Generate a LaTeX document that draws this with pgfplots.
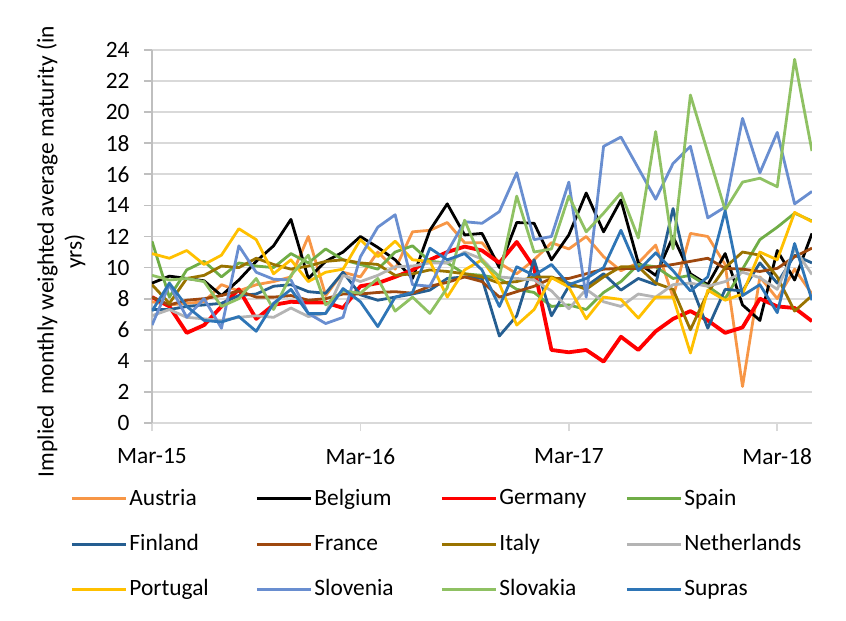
\documentclass[border=0pt]{standalone}
\usepackage{fontspec}
\setmainfont{Carlito}
\usepackage{pgfplots}
\usepackage{pgfplotstable}
\pgfplotsset{compat=1.18}

\definecolor{cAustria}{HTML}{F79646}
\definecolor{cBelgium}{HTML}{000000}
\definecolor{cGermany}{HTML}{FF0000}
\definecolor{cSpain}{HTML}{70AD47}
\definecolor{cFinland}{HTML}{255E91}
\definecolor{cFrance}{HTML}{9E480E}
\definecolor{cItaly}{HTML}{997300}
\definecolor{cNetherlands}{HTML}{B4B4B4}
\definecolor{cPortugal}{HTML}{FFC000}
\definecolor{cSlovenia}{HTML}{698ED0}
\definecolor{cSlovakia}{HTML}{8FC163}
\definecolor{cSupras}{HTML}{2E75B6}
\definecolor{gridgray}{HTML}{D9D9D9}
\definecolor{axgray}{HTML}{BFBFBF}

% monthly values, m = months since Mar-15
\pgfplotstableread{
m  Austria Belgium Germany Spain Finland France Italy Netherlands Portugal Slovenia Slovakia Supras
0  7.8  9.0   8.1   11.7  7.3   8.1   8.9   6.9   10.9  6.3   9.5   7.2
1  7.6  9.45  7.5   8.1   7.3   7.6   7.7   7.3   10.6  8.9   9.2   9.0
2  7.7  9.3   5.8   9.85  7.5   7.9   9.3   6.8   11.1  6.8   9.3   7.5
3  7.8  9.15  6.3   10.4  7.6   8.0   9.5   6.7   10.2  8.0   9.1   6.6
4  8.9  8.2   7.5   9.4   7.7   8.2   10.1  6.6   10.8  6.1   7.5   6.5
5  8.5  9.2   8.6   10.3  8.2   8.5   10.0  6.8   12.5  11.4  8.0   6.85
6  8.9  10.4  6.7   10.1  8.3   8.1   10.6  6.9   11.8  9.7   9.3   5.9
7  9.1  11.4  7.6   10.0  8.8   8.1   10.2  6.8   9.6   9.25  7.3   7.7
8  9.4  13.1  7.8   10.9  8.9   8.2   9.9   7.4   10.5  9.2   9.5   8.6
9  12.0 9.3   7.75  10.3  8.45  7.9   10.1  6.85  9.1   7.05  10.8  7.05
10 8.2  10.4  7.75  11.2  8.35  8.0   10.4  7.05  9.7   6.4   7.6   7.05
11 9.7  11.0  7.4   10.5  9.7   8.3   10.5  9.5   9.9   6.8   8.5   8.65
12 9.4  12.0  8.8   10.2  8.25  8.3   10.3  9.1   11.8  10.7  8.35  7.8
13 11.0 11.3  9.0   9.9   7.9   8.4   10.2  9.5   10.7  12.6  9.3   6.2
14 9.9  10.5  9.4   11.0  8.1   8.45  9.5   10.05 11.7  13.4  7.2   8.1
15 12.3 9.3   9.85  11.4  8.3   8.35  9.6   10.1  10.5  8.9   8.1   8.4
16 12.4 12.4  10.5  10.4  8.55  8.8   9.85  10.3  10.4  8.8   7.05  11.25
17 12.9 14.1  11.0  10.3  9.3   9.05  9.75  10.3  8.1   11.0  8.7   10.5
18 11.6 12.1  11.35 9.6   9.4   9.4   9.6   11.0  9.85  12.95 13.05 10.9
19 11.6 12.2  11.1  9.5   9.3   9.1   9.4   10.55 10.5  12.85 10.4  9.85
20 10.3 10.0  10.3  9.3   5.6   8.1   9.0   9.4   8.95  13.6  9.4   7.5
21 9.6  12.9  11.65 8.6   6.9   8.45  9.1   9.3   6.3   16.1  14.6  10.05
22 10.5 12.85 10.0  8.4   10.5  8.8   9.4   9.2   7.3   11.8  11.0  9.5
23 11.6 10.5  4.7   7.5   6.9   9.3   9.4   8.5   9.35  12.0  11.2  10.2
24 11.2 12.1  4.55  7.6   8.8   9.3   9.0   7.35  8.75  15.5  14.6  8.9
25 12.0 14.8  4.7   7.3   8.8   9.6   8.6   8.6   6.7   8.1   12.3  9.3
26 10.7 12.3  3.95  8.4   9.6   9.9   9.4   7.8   8.1   17.8  13.5  10.0
27 9.8  14.35 5.55  9.1   8.55  9.95  10.05 7.5   7.95  18.4  14.8  12.4
28 10.3 10.3  4.7   10.2  9.3   9.95  10.05 8.3   6.75  16.4  11.9  9.8
29 11.45 9.5  5.9   10.05 8.9   10.05 9.0   8.1   8.1   14.4  18.75 10.95
30 8.1  12.0  6.7   9.3   13.8  10.2  8.6   8.9   8.1   16.7  11.2  9.8
31 12.2 9.6   7.2   9.5   9.0   10.4  6.0   9.0   4.5   17.8  21.1  8.5
32 12.0 8.9   6.6   8.8   6.1   10.6  8.4   8.8   8.55  13.2  17.4  9.4
33 10.2 10.9  5.8   8.0   8.6   9.95  10.0  9.1   7.9   13.9  13.7  13.65
34 2.35 7.6   6.15  9.9   8.5   9.9   11.0  9.7   8.3   19.6  15.5  8.2
35 9.4  6.6   8.0   11.8  10.3  9.75  10.8  9.35  11.0  16.1  15.75 8.9
36 8.0  11.1  7.5   12.6  9.0   9.95  9.4   8.6   10.5  18.7  15.2  7.1
37 9.9  9.2   7.4   13.5  10.8  10.7  7.2   11.2  13.55 14.1  23.4  11.55
38 8.3  12.2  6.55  13.0  10.3  11.25 8.2   9.55  12.95 14.9  17.5  7.9
}\wam

\newcommand{\cfont}{\fontsize{11.7}{14}\selectfont}

\begin{document}
\begin{tikzpicture}
\path[use as bounding box] (-76pt,-99pt) rectangle (347pt,211.5pt);
\begin{axis}[
    scale only axis,
    width=330pt, height=186.5pt,
    xmin=0, xmax=38,
    ymin=0, ymax=24,
    xtick={0,12,24,36},
    xticklabels={Mar-15,Mar-16,Mar-17,Mar-18},
    ytick={0,2,...,24},
    axis x line*=bottom,
    axis y line*=left,
    x axis line style={draw=gridgray, line width=0.9pt, -},
    y axis line style={draw=axgray, line width=0.9pt, -},
    tick align=outside,
    major tick length=4pt,
    xtick style={draw=gridgray, line width=0.9pt},
    ytick style={draw=axgray, line width=0.9pt},
    ymajorgrids,
    grid style={draw=gridgray, line width=0.9pt},
    /pgf/number format/assume math mode=true,
    tick label style={font=\cfont, text=black},
    yticklabel style={inner xsep=0pt, xshift=-7pt},
    xticklabel style={inner ysep=0pt, yshift=-8.5pt},
    ylabel={Implied\ \ monthly weighted average maturity (in\\yrs)},
    every axis y label/.style={at={(axis description cs:-0.138,0.46)}, rotate=90, anchor=center, align=center, font=\cfont},
    legend columns=4,
    legend style={draw=none, fill=none, font=\cfont, inner sep=0pt,
        at={(axis description cs:-0.1242,-0.3244)}, anchor=west,
        row sep=9pt,
        nodes={inner xsep=1pt}},
    legend cell align=left,
    legend image code/.code={\draw[line width=1.5pt,#1] (0pt,0pt) -- (27pt,0pt);},
    every axis plot/.append style={line width=1.4pt, line join=round},
]
\addplot[cAustria] table[x=m, y=Austria] {\wam};
\addlegendentry{\makebox[62pt][l]{Austria}}
\addplot[cBelgium] table[x=m, y=Belgium] {\wam};
\addlegendentry{\makebox[62pt][l]{Belgium}}
\addplot[cGermany, line width=1.9pt] table[x=m, y=Germany] {\wam};
\addlegendentry{\makebox[62pt][l]{Germany}}
\addplot[cSpain] table[x=m, y=Spain] {\wam};
\addlegendentry{\makebox[62pt][l]{Spain}}
\addplot[cFinland] table[x=m, y=Finland] {\wam};
\addlegendentry{\makebox[62pt][l]{Finland}}
\addplot[cFrance] table[x=m, y=France] {\wam};
\addlegendentry{\makebox[62pt][l]{France}}
\addplot[cItaly] table[x=m, y=Italy] {\wam};
\addlegendentry{\makebox[62pt][l]{Italy}}
\addplot[cNetherlands] table[x=m, y=Netherlands] {\wam};
\addlegendentry{\makebox[62pt][l]{Netherlands}}
\addplot[cPortugal] table[x=m, y=Portugal] {\wam};
\addlegendentry{\makebox[62pt][l]{Portugal}}
\addplot[cSlovenia] table[x=m, y=Slovenia] {\wam};
\addlegendentry{\makebox[62pt][l]{Slovenia}}
\addplot[cSlovakia] table[x=m, y=Slovakia] {\wam};
\addlegendentry{\makebox[62pt][l]{Slovakia}}
\addplot[cSupras] table[x=m, y=Supras] {\wam};
\addlegendentry{\makebox[62pt][l]{Supras}}
\end{axis}
\end{tikzpicture}
\end{document}
